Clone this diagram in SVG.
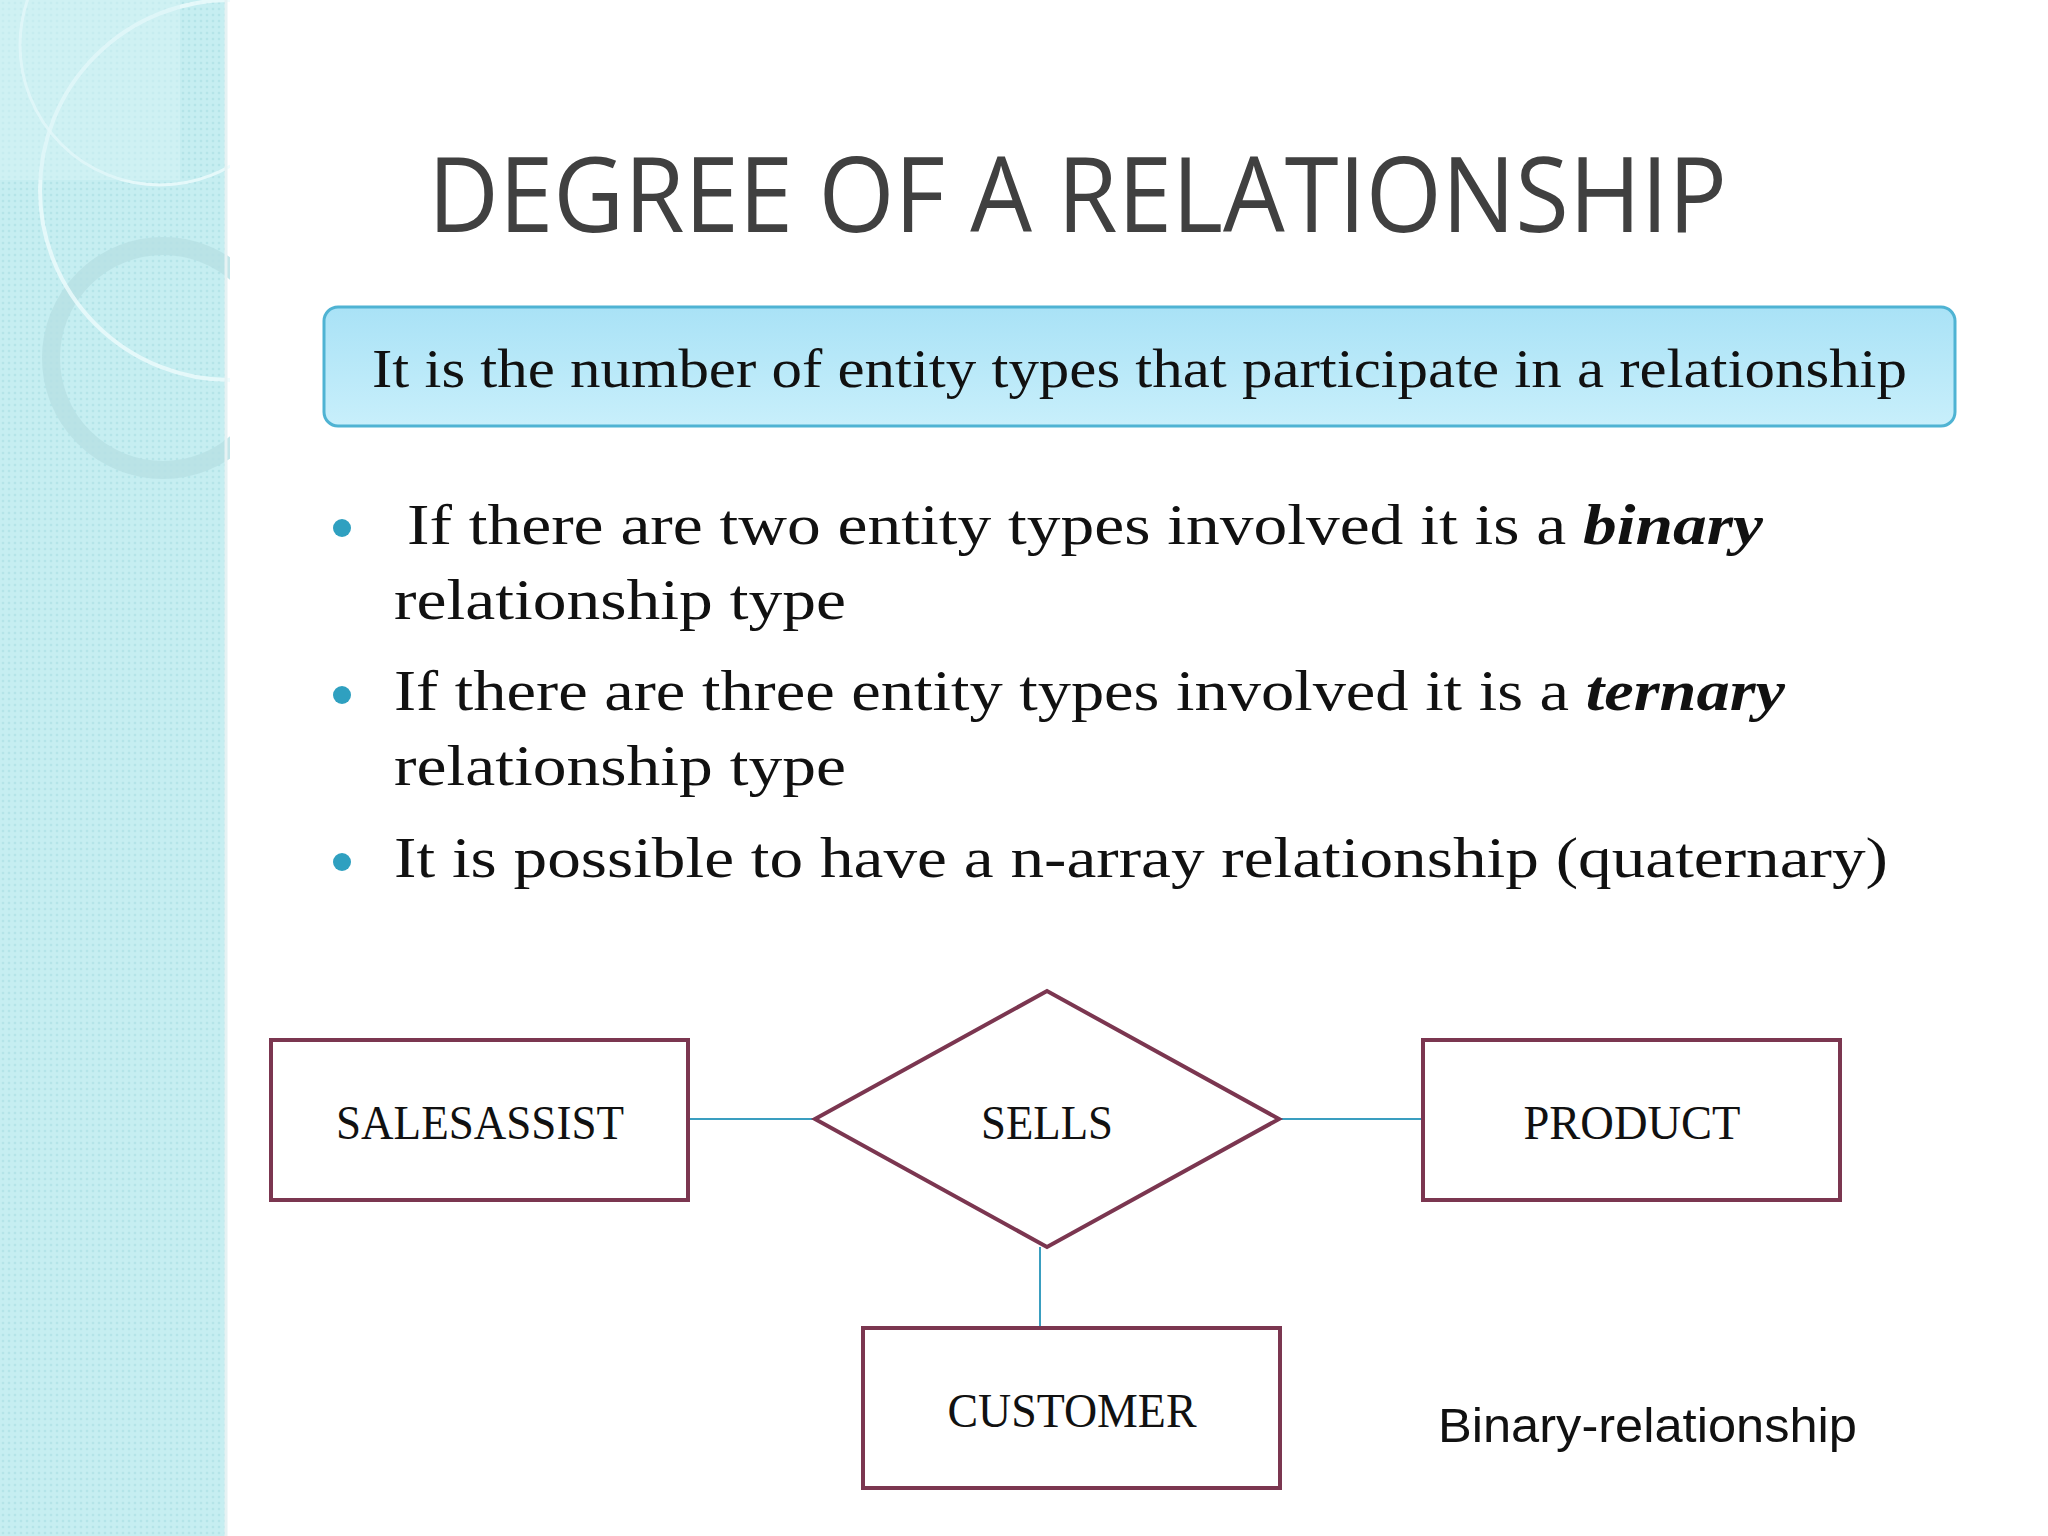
<svg xmlns="http://www.w3.org/2000/svg" width="2048" height="1536" viewBox="0 0 2048 1536">
<defs>
<linearGradient id="boxg" x1="0" y1="0" x2="0" y2="1"><stop offset="0" stop-color="#a9e2f6"/><stop offset="1" stop-color="#c8effb"/></linearGradient>
<pattern id="dots" width="6" height="6" patternUnits="userSpaceOnUse"><rect width="6" height="6" fill="#c6eef1"/><circle cx="3" cy="3" r="1.3" fill="#b4e4e8"/></pattern>
<clipPath id="strip"><rect x="0" y="0" width="230" height="1536"/></clipPath>
<style>
.ent{fill:#fff;stroke:#7b3650;stroke-width:4}
.lbl{font-family:"Liberation Serif","DejaVu Serif",serif;font-size:48px;fill:#111;text-anchor:middle}
.bul{font-family:"Liberation Serif","DejaVu Serif",serif;font-size:58px;fill:#111}
.con{stroke:#3a9ec0;stroke-width:2;fill:none}
</style>
</defs>
<rect width="2048" height="1536" fill="#fff"/>
<g id="strip-bg">
<rect x="0" y="0" width="226" height="1536" fill="url(#dots)"/>
<g clip-path="url(#strip)" fill="none" stroke="#eefbfc" stroke-opacity="0.8">
<circle cx="163" cy="358" r="112" stroke-width="18" stroke="#b6e0e4"/>
<circle cx="230" cy="190" r="190" stroke-width="4"/>
<circle cx="160" cy="45" r="140" stroke-width="3"/>
<rect x="0" y="0" width="180" height="180" fill="#d8f4f6" fill-opacity="0.5" stroke="none"/>
</g>
<line x1="226" y1="0" x2="226" y2="1536" stroke="#e6f2f3" stroke-width="3"/>
</g>
<text x="428" y="232" font-family="'Open Sans','DejaVu Sans',sans-serif" font-size="104" fill="#404040" textLength="1299" lengthAdjust="spacingAndGlyphs">DEGREE OF A RELATIONSHIP</text>
<g id="definition">
<rect x="324" y="307" width="1631" height="119" rx="14" fill="url(#boxg)" stroke="#4fb3d3" stroke-width="3"/>
<text x="372" y="387" font-family="'Liberation Serif','DejaVu Serif',serif" font-size="54" fill="#111" textLength="1535" lengthAdjust="spacingAndGlyphs">It is the number of entity types that participate in a relationship</text>
</g>
<g id="bullets" fill="#2fa0c0">
<circle cx="342" cy="528" r="9"/><circle cx="342" cy="695" r="9"/><circle cx="342" cy="862" r="9"/>
<text class="bul" x="407" y="544" textLength="1356" lengthAdjust="spacingAndGlyphs">If there are two entity  types involved it is a  <tspan font-weight="bold" font-style="italic">binary</tspan></text>
<text class="bul" x="394" y="619" textLength="452" lengthAdjust="spacingAndGlyphs">relationship type</text>
<text class="bul" x="394" y="710" textLength="1391" lengthAdjust="spacingAndGlyphs">If there are three entity types involved it is a <tspan font-weight="bold" font-style="italic">ternary</tspan></text>
<text class="bul" x="394" y="785" textLength="452" lengthAdjust="spacingAndGlyphs">relationship type</text>
<text class="bul" x="394" y="877" textLength="1494" lengthAdjust="spacingAndGlyphs">It is possible to have a n-array relationship (quaternary)</text>
</g>
<g id="connectors">
<line class="con" x1="688" y1="1119" x2="815" y2="1119"/>
<line class="con" x1="1279" y1="1119" x2="1422" y2="1119"/>
<line class="con" x1="1040" y1="1247" x2="1040" y2="1327"/>
</g>
<g id="salesassist"><rect class="ent" x="271" y="1040" width="417" height="160"/><text class="lbl" x="480" y="1139" textLength="288" lengthAdjust="spacingAndGlyphs">SALESASSIST</text></g>
<g id="sells"><polygon class="ent" points="815,1119 1047,991 1279,1119 1047,1247"/><text class="lbl" x="1047" y="1139" textLength="132" lengthAdjust="spacingAndGlyphs">SELLS</text></g>
<g id="product"><rect class="ent" x="1423" y="1040" width="417" height="160"/><text class="lbl" x="1632" y="1139" textLength="217" lengthAdjust="spacingAndGlyphs">PRODUCT</text></g>
<g id="customer"><rect class="ent" x="863" y="1328" width="417" height="160"/><text class="lbl" x="1072" y="1427" textLength="249" lengthAdjust="spacingAndGlyphs">CUSTOMER</text></g>
<text x="1438" y="1442" font-family="'Liberation Sans',Arial,sans-serif" font-size="48" fill="#111" textLength="419" lengthAdjust="spacingAndGlyphs">Binary-relationship</text>
</svg>
